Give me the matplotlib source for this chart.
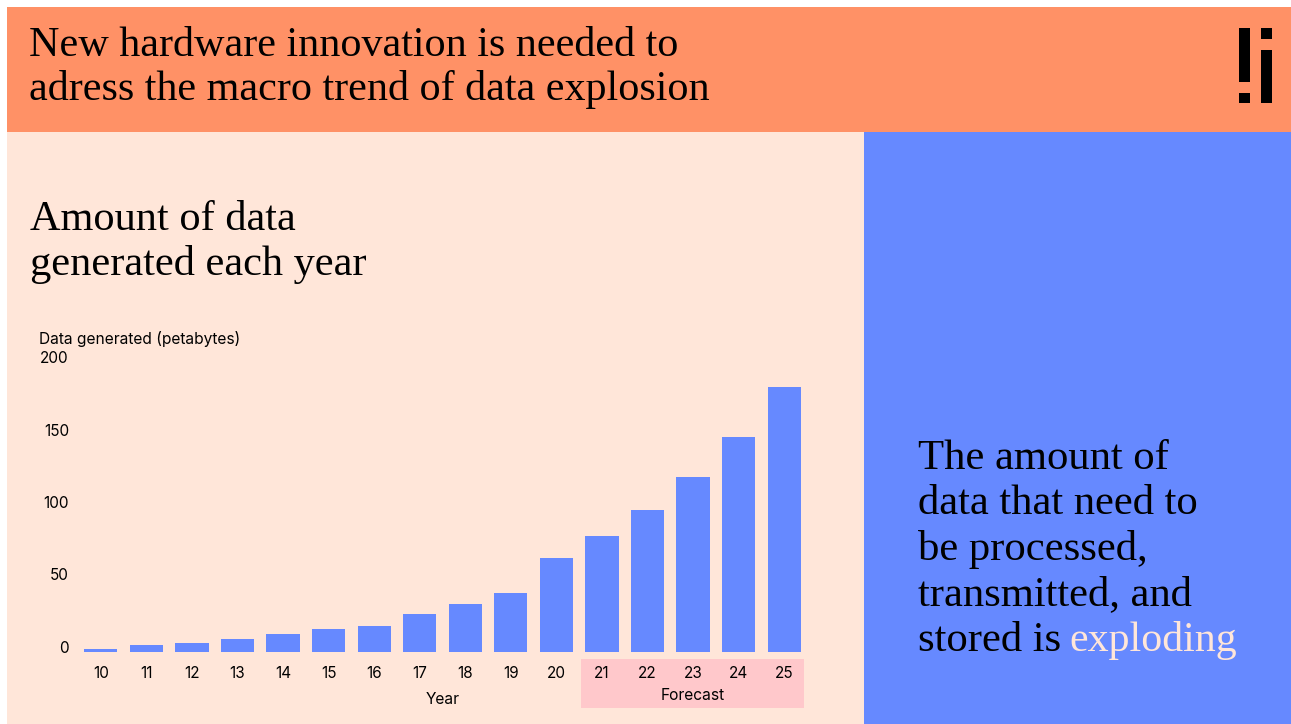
import numpy as np
import matplotlib
matplotlib.use("Agg")
import matplotlib.pyplot as plt
from matplotlib.patches import Rectangle
from matplotlib.transforms import ScaledTranslation

# data
years = ["10", "11", "12", "13", "14", "15", "16", "17", "18", "19", "20",
         "21", "22", "23", "24", "25"]
data_pb = [2, 5, 6.5, 9, 12.5, 16, 18, 26, 33, 41, 65, 80, 98, 121, 148, 183]
yticks = [0, 50, 100, 150, 200]

headline = ["New hardware innovation is needed to",
            "adress the macro trend of data explosion"]
chart_title = ["Amount of data", "generated each year"]
side_text = ["The amount of", "data that need to", "be processed,",
             "transmitted, and", "stored is "]
side_hl = "exploding"

ORANGE = "#FF9166"
BEIGE = "#FFE6D9"
BLUE = "#6689FF"
PINK = "#FFC8CB"

W, H = 1291, 724
fig = plt.figure(figsize=(W / 100, H / 100), dpi=100)
fig.patch.set_facecolor("white")

def fx(px):
    return px / W

def fy(py):
    return 1 - py / H

def box(x0, y0, x1, y1, color, z=-1):
    fig.patches.append(Rectangle((fx(x0), fy(y1)), fx(x1) - fx(x0), fy(y0) - fy(y1),
                                 transform=fig.transFigure, color=color, lw=0, zorder=z))

# background panels
box(7, 7, W, 132, ORANGE, -3)
box(7, 132, 864, H, BEIGE, -3)
box(864, 132, W, H, BLUE, -3)
box(581, 659, 804, 708, PINK, -2)  # forecast band

# logo "!i"
box(1239, 28, 1250, 82, "black")
box(1239, 93, 1250, 103, "black")
box(1261, 28, 1272, 39, "black")
box(1261, 50, 1272, 103, "black")

serif = "Liberation Serif"
sans = "Inter"

for i, line in enumerate(headline):
    fig.text(fx(29), fy(56 + 44 * i), line, family=serif, fontsize=30.3, va="baseline")
for i, line in enumerate(chart_title):
    fig.text(fx(30), fy(230 + 45 * i), line, family=serif, fontsize=30.5, va="baseline")

# right hand text, last word in beige
for i, line in enumerate(side_text):
    t = fig.text(fx(918), fy(469 + 45.5 * i), line, family=serif, fontsize=30.7, va="baseline")
fig.canvas.draw()
bb = t.get_window_extent()
fig.text(bb.x1 / W - 0.002, fy(469 + 45.5 * 4), side_hl, family=serif, fontsize=30.2,
         va="baseline", color=BEIGE)

# bar chart
ax = fig.add_axes([fx(78), fy(652), fx(807) - fx(78), fy(362) - fy(652)])
ax.set_facecolor("none")
x = np.arange(len(years))
ax.bar(x, data_pb, width=0.73, color=BLUE, zorder=3)
ax.set_xlim(-0.5, len(years) - 0.5)
ax.set_ylim(0, 200)
ax.set_xticks(x)
ax.set_xticklabels(years, family=sans, fontsize=11)
ax.set_yticks(yticks)
ax.set_yticklabels([str(t) for t in yticks], family=sans, fontsize=11)
ax.tick_params(axis="x", length=0, pad=10)
ax.tick_params(axis="y", length=0, pad=6.5)
for lab in ax.get_yticklabels():
    lab.set_transform(lab.get_transform() + ScaledTranslation(0, 5 / 100, fig.dpi_scale_trans))
for s in ax.spines.values():
    s.set_visible(False)

fig.text(fx(39), fy(339), "Data generated (petabytes)", family=sans, fontsize=11.2, va="center")
fig.text(fx(443), fy(699), "Year", family=sans, fontsize=11.2, va="center", ha="center")
fig.text(fx(693), fy(696), "Forecast", family=sans, fontsize=11.2, va="center", ha="center")

fig.savefig("out.png", dpi=100)
